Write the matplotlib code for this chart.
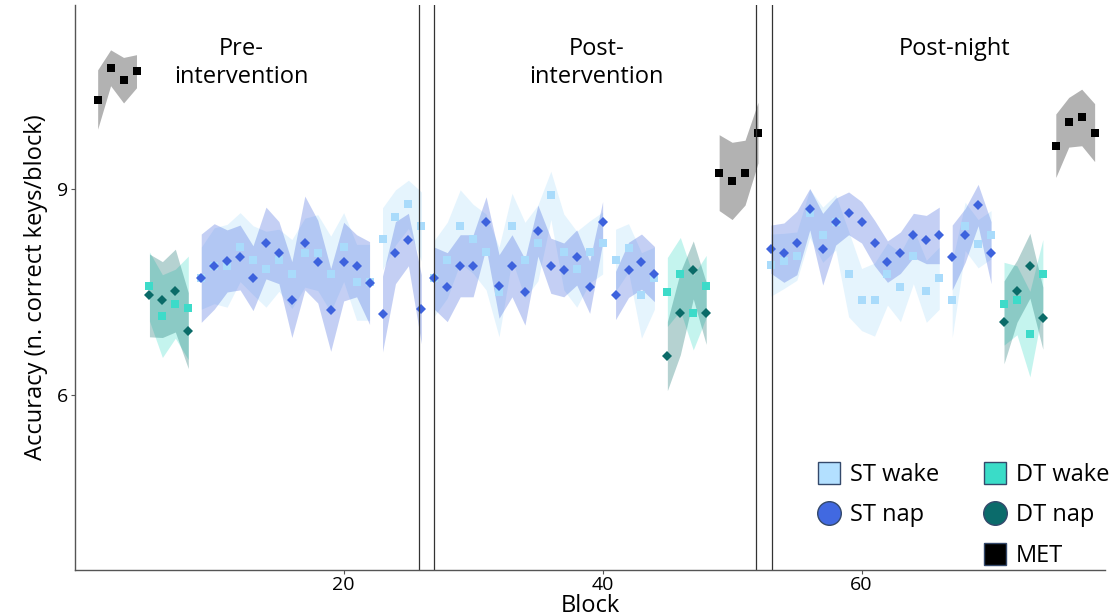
import numpy as np
import matplotlib
matplotlib.use("Agg")
import matplotlib.pyplot as plt
from matplotlib.lines import Line2D

plt.rcParams['font.family'] = ['Open Sans', 'DejaVu Sans']

# ---- data ----
# MET blocks: pre / post / post-night
met_blocks = [1, 2, 3, 4, 49, 50, 51, 52, 75, 76, 77, 78]
met_mean = [10.29, 10.75, 10.57, 10.70, 9.23, 9.11, 9.23, 9.81, 9.62, 9.96, 10.03, 9.81]
met_se = [0.43, 0.26, 0.33, 0.24, 0.55, 0.56, 0.47, 0.44, 0.46, 0.36, 0.41, 0.42]
met_starts = [1, 49, 75]

# dual task blocks
dt_blocks = [5, 6, 7, 8, 45, 46, 47, 48, 71, 72, 73, 74]
dt_wake = [7.58, 7.15, 7.33, 7.27, 7.50, 7.76, 7.20, 7.58, 7.33, 7.38, 6.89, 7.76]
dt_wake_se = [0.50, 0.60, 0.50, 0.75, 0.50, 0.53, 0.54, 0.45, 0.60, 0.50, 0.62, 0.50]
dt_nap = [7.45, 7.39, 7.52, 6.94, 6.57, 7.19, 7.82, 7.19, 7.06, 7.51, 7.88, 7.12]
dt_nap_se = [0.60, 0.55, 0.60, 0.55, 0.50, 0.60, 0.42, 0.45, 0.60, 0.45, 0.47, 0.45]
dt_starts = [5, 45, 71]

# single task blocks
st_blocks = list(range(9, 27)) + list(range(27, 45)) + list(range(53, 71))
st_starts = [9, 23, 27, 41, 53, 67]
st_wake = [7.70, 7.88, 7.88, 8.15, 7.96, 7.83, 7.96, 7.76, 8.07, 8.07, 7.76, 8.15, 7.64, 7.64,
           8.27, 8.58, 8.77, 8.45,
           7.70, 7.96, 8.45, 8.27, 8.08, 7.50, 8.45, 7.96, 8.21, 8.90, 8.08, 7.83, 8.08, 8.21,
           7.96, 8.14, 7.45, 7.70,
           7.89, 7.95, 8.02, 8.64, 8.33, 8.51, 7.76, 7.39, 7.39, 7.76, 7.57, 8.02, 7.51, 7.70,
           7.39, 8.45, 8.20, 8.33]
st_wake_se = [0.45, 0.55, 0.60, 0.50, 0.50, 0.55, 0.45, 0.50, 0.50, 0.55, 0.55, 0.50, 0.55, 0.55,
              0.45, 0.40, 0.35, 0.50,
              0.55, 0.55, 0.53, 0.50, 0.55, 0.65, 0.48, 0.55, 0.55, 0.35, 0.55, 0.55, 0.45, 0.45,
              0.45, 0.35, 0.62, 0.45,
              0.45, 0.40, 0.35, 0.35, 0.40, 0.40, 0.62, 0.45, 0.53, 0.45, 0.50, 0.40, 0.45, 0.45,
              0.55, 0.35, 0.35, 0.35]
st_nap = [7.70, 7.87, 7.95, 8.00, 7.70, 8.21, 8.07, 7.39, 8.21, 7.94, 7.24, 7.94, 7.88, 7.63,
          7.18, 8.07, 8.26, 7.25,
          7.70, 7.57, 7.88, 7.88, 8.51, 7.58, 7.88, 7.50, 8.39, 7.88, 7.82, 8.00, 7.57, 8.51,
          7.45, 7.82, 7.94, 7.76,
          8.12, 8.07, 8.21, 8.70, 8.12, 8.52, 8.64, 8.51, 8.21, 7.94, 8.07, 8.32, 8.26, 8.32,
          8.00, 8.32, 8.76, 8.07]
st_nap_se = [0.64, 0.62, 0.45, 0.47, 0.47, 0.52, 0.45, 0.55, 0.68, 0.60, 0.60, 0.57, 0.45, 0.60,
             0.55, 0.45, 0.38, 0.50,
             0.45, 0.50, 0.45, 0.45, 0.37, 0.46, 0.45, 0.48, 0.37, 0.40, 0.39, 0.40, 0.38, 0.30,
             0.35, 0.40, 0.40, 0.40,
             0.35, 0.43, 0.46, 0.30, 0.52, 0.34, 0.31, 0.30, 0.33, 0.30, 0.30, 0.32, 0.35, 0.41,
             0.47, 0.39, 0.30, 0.45]

phase_lines = [25.8, 27.0, 51.85, 53.1]
phase_labels = ["Pre-\nintervention", "Post-\nintervention", "Post-night"]
phase_label_x = [12.1, 39.5, 67.2]

c_st_wake = '#a9dbfb'
c_st_nap = '#3d62dd'
c_dt_wake = '#3ddbc9'
c_dt_nap = '#0a6b68'
c_met = '#000000'


def segments(blocks, starts):
    blocks = np.asarray(blocks)
    idx = np.searchsorted(blocks, starts)
    bounds = list(idx) + [len(blocks)]
    return [slice(bounds[i], bounds[i + 1]) for i in range(len(starts))]


def ribbon(ax, blocks, mean, se, starts, color, alpha):
    b = np.asarray(blocks, float)
    m = np.asarray(mean)
    s = np.asarray(se)
    for sl in segments(blocks, starts):
        ax.fill_between(b[sl], m[sl] - s[sl], m[sl] + s[sl], color=color,
                        alpha=alpha, linewidth=0)


fig = plt.figure(figsize=(11.15, 6.16), dpi=100)
ax = fig.add_axes([75 / 1115, 46 / 616, 1030 / 1115, 565 / 616])

# ribbons
ribbon(ax, st_blocks, st_wake, st_wake_se, st_starts, c_st_wake, 0.3)
ribbon(ax, st_blocks, st_nap, st_nap_se, st_starts, c_st_nap, 0.3)
ribbon(ax, dt_blocks, dt_wake, dt_wake_se, dt_starts, c_dt_wake, 0.3)
ribbon(ax, dt_blocks, dt_nap, dt_nap_se, dt_starts, c_dt_nap, 0.3)
ribbon(ax, met_blocks, met_mean, met_se, met_starts, '#000000', 0.3)

# points
ax.plot(st_blocks, st_wake, 's', color=c_st_wake, ms=5.5, mew=0)
ax.plot(st_blocks, st_nap, 'D', color=c_st_nap, ms=5, mew=0)
ax.plot(dt_blocks, dt_wake, 's', color=c_dt_wake, ms=5.5, mew=0)
ax.plot(dt_blocks, dt_nap, 'D', color=c_dt_nap, ms=5, mew=0)
ax.plot(met_blocks, met_mean, 's', color=c_met, ms=5.5, mew=0)

for x in phase_lines:
    ax.axvline(x, color='#333333', lw=0.9)

for lab, x in zip(phase_labels, phase_label_x):
    ax.text(x, 11.2, lab, ha='center', va='top', fontsize=17, linespacing=1.25)

ax.set_xlim(-0.75, 78.8)
ax.set_ylim(3.47, 11.66)
ax.set_xticks([20, 40, 60])
ax.set_yticks([6, 9])
ax.tick_params(labelsize=14, length=3, color='#555555', width=0.8, pad=2)
ax.tick_params(axis='x', pad=1)
for sp in ['top', 'right']:
    ax.spines[sp].set_visible(False)
for sp in ['left', 'bottom']:
    ax.spines[sp].set_color('#555555')
    ax.spines[sp].set_linewidth(1)

ax.set_xlabel('Block', fontsize=17, labelpad=0)
ax.set_ylabel('Accuracy (n. correct keys/block)', fontsize=17, labelpad=6)

blank = Line2D([], [], linestyle='none', marker='')
edge = '#34496b'
handles = [
    Line2D([], [], linestyle='none', marker='s', ms=16, mfc='#b3e0ff', mec=edge, mew=1),
    Line2D([], [], linestyle='none', marker='o', ms=17, mfc='#4169e1', mec=edge, mew=1),
    blank,
    Line2D([], [], linestyle='none', marker='s', ms=16, mfc='#3adcc8', mec=edge, mew=1),
    Line2D([], [], linestyle='none', marker='o', ms=17, mfc='#0b6b6b', mec=edge, mew=1),
    Line2D([], [], linestyle='none', marker='s', ms=16, mfc='#000000', mec=edge, mew=1),
]
labels = ['ST wake', 'ST nap', '', 'DT wake', 'DT nap', 'MET']
ax.legend(handles, labels, ncol=2, loc='lower right', bbox_to_anchor=(1.025, -0.034),
          frameon=False, fontsize=17, handletextpad=0.3, columnspacing=1.75,
          labelspacing=0.7, handlelength=1.2)

fig.savefig('out.png', dpi=100)
